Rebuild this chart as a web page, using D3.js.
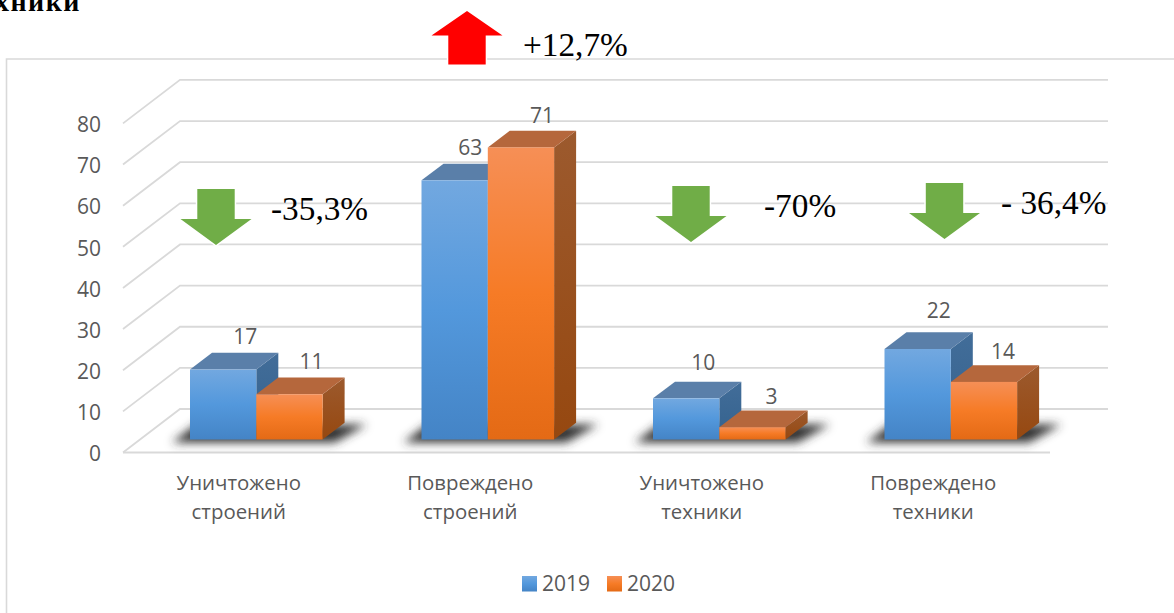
<!DOCTYPE html>
<html><head><meta charset="utf-8">
<script src="https://cdn.jsdelivr.net/npm/d3@7"></script>
<style>html,body{margin:0;padding:0;background:#fff;overflow:hidden}svg{display:block}</style>
</head><body><div id="c"></div>
<script>
const categories = [["Уничтожено","строений"],["Повреждено","строений"],["Уничтожено","техники"],["Повреждено","техники"]];
const seriesNames = ["2019","2020"];
const values2019 = [17,63,10,22];
const values2020 = [11,71,3,14];
const yTicks = [0,10,20,30,40,50,60,70,80];
const changeLabels = ["-35,3%","+12,7%","-70%","- 36,4%"];
const changeDirections = ["down","up","down","down"];
const arrowCentres = [[216,189],[467,64.5],[691,186],[944.5,183]];
const changeLabelPos = [[271,220],[523,56],[764,217],[1001,214]];
const labelDx2019 = [22,15.5,17,21], labelDy2019 = [-16.5,-16,-19,-22];
const labelDx2020 = [22,21,19,19], labelDy2020 = [-16,-15,-14,-14];

const W=1174,H=613, depthX=22, depthY=16.7, barDrop=13, fs=21;
const svg=d3.select("#c").append("svg").attr("width",W).attr("height",H).attr("viewBox",`0 0 ${W} ${H}`);
const defs=svg.append("defs");
function grad(id,stops){const g=defs.append("linearGradient").attr("id",id).attr("x1",0).attr("y1",0).attr("x2",0).attr("y2",1);
  stops.forEach(([o,c])=>g.append("stop").attr("offset",o).attr("stop-color",c));}
grad("f0",[[0,"#72a8e0"],[.5,"#5398dc"],[1,"#4484c6"]]);
grad("f1",[[0,"#f68f56"],[.5,"#f67b26"],[1,"#e46a15"]]);
grad("s0",[[0,"#426d99"],[1,"#34628e"]]);
grad("s1",[[0,"#9c5a2e"],[1,"#964810"]]);
defs.append("filter").attr("id","blur").attr("x","-30%").attr("y","-100%").attr("width","160%").attr("height","300%")
  .append("feGaussianBlur").attr("stdDeviation",5);

const y=d3.scaleLinear().domain([0,80]).range([452.5,123.4]);
const x0=d3.scaleBand().domain(d3.range(categories.length)).range([124,1050]);
const x1=d3.scaleBand().domain(seriesNames).range([66,198.6]);
const grey="#d9d9d9", txt="#595959", sans="'Open Sans',sans-serif", serif="'Liberation Serif',serif";

// frame
svg.append("path").attr("d",`M6.5,${H}V59H${W}`).attr("fill","none").attr("stroke",grey).attr("stroke-width",1.6);
// title line, clipped by the top-left corner as in the reference
svg.append("text").attr("x",81).attr("y",11).attr("text-anchor","end").attr("font-family",serif).attr("font-weight","bold").attr("font-size",28).attr("letter-spacing",1.5).attr("fill","#000").text("техники");

// grid
const grid=svg.append("g").attr("fill","none").attr("stroke",grey).attr("stroke-width",1.8);
yTicks.forEach(t=>{
  grid.append("path").attr("d",`M123,${y(t)}L180,${y(t)-43.5}H1108`);
});
grid.append("path").attr("d",`M123,${y(0)}H1050`);

// y axis
const axis=svg.append("g").attr("transform","translate(124,1.5)").call(d3.axisLeft(y).tickValues(yTicks).tickSize(0).tickPadding(23));
axis.select(".domain").remove();
axis.selectAll("text").attr("font-family",sans).attr("font-size",fs).attr("fill",txt);

// shadows
const barBase=v=>y(v)-barDrop;
svg.append("g").selectAll("path").data(categories).join("path")
  .attr("d",(d,i)=>{const a=x0(i)+x1("2019"),b=x0(i)+x1("2020")+x1.bandwidth();
    return `M${a-18},${y(0)-10}L${a+6},${y(0)-28}H${b+44}L${b+12},${y(0)-10}Z`;})
  .attr("fill","#333").attr("filter","url(#blur)");

// bars
const series=[values2019,values2020];
const barG=svg.append("g");
categories.forEach((c,i)=>{
  series.forEach((vals,s)=>{
    const v=vals[i], xa=x0(i)+x1(seriesNames[s]), w=x1.bandwidth(), yt=barBase(v), yb=barBase(0);
    barG.append("path").attr("d",`M${xa+w},${yt}l${depthX},${-depthY}V${yb-depthY}l${-depthX},${depthY}Z`).attr("fill",`url(#s${s})`);
    barG.append("path").attr("d",`M${xa},${yt}l${depthX},${-depthY}h${w}l${-depthX},${depthY}Z`).attr("fill",s?"#b5673c":"#5a7fa9");
    barG.append("rect").attr("x",xa).attr("y",yt).attr("width",w).attr("height",yb-yt).attr("fill",`url(#f${s})`);
  });
});

// data labels
series.forEach((vals,s)=>{
  const dx=s?labelDx2020:labelDx2019, dy=s?labelDy2020:labelDy2019;
  svg.append("g").selectAll("text").data(vals).join("text")
    .attr("x",(v,i)=>x0(i)+x1(seriesNames[s])+x1.bandwidth()/2+dx[i])
    .attr("y",(v,i)=>barBase(v)-depthY+dy[i])
    .attr("dy","0.35em").attr("text-anchor","middle").attr("font-family",sans).attr("font-size",fs).attr("fill",txt).text(v=>v);
});

// category labels
const cat=svg.append("g").selectAll("text").data(categories).join("text")
  .attr("text-anchor","middle").attr("font-family",sans).attr("font-size",20.4).attr("fill",txt);
cat.each(function(d,i){
  d.forEach((line,k)=>d3.select(this).append("tspan").attr("x",x0(i)+x0.bandwidth()/2-1).attr("y",490+k*29).text(line));
});

// legend
const leg=svg.append("g").selectAll("g").data(seriesNames).join("g").attr("transform",(d,i)=>`translate(${522+i*85},576)`);
leg.append("rect").attr("width",15).attr("height",15.5).attr("fill",(d,i)=>`url(#f${i})`);
leg.append("text").attr("x",20).attr("y",8).attr("dy","0.35em").attr("font-family",sans).attr("font-size",fs).attr("fill",txt).text(d=>d);

// change arrows
const arrow=(cx,top,dir)=>{
  const sh=18.7, hw=35.5, shaft=dir==="down"?30:29, head=dir==="down"?26:24.5;
  const k=dir==="down"?1:-1;
  return `M${cx-sh},${top}H${cx+sh}V${top+k*shaft}H${cx+hw}L${cx},${top+k*(shaft+head)}L${cx-hw},${top+k*shaft}H${cx-sh}Z`;
};
svg.append("g").selectAll("path").data(changeDirections).join("path")
  .attr("d",(d,i)=>arrow(arrowCentres[i][0],arrowCentres[i][1],d))
  .attr("fill",d=>d==="up"?"#ff0000":"#70ad47").attr("stroke","#fff").attr("stroke-width",3).attr("paint-order","stroke");
svg.append("g").selectAll("text").data(changeLabels).join("text")
  .attr("x",(d,i)=>changeLabelPos[i][0]).attr("y",(d,i)=>changeLabelPos[i][1])
  .attr("font-family",serif).attr("font-size",33.3).attr("fill","#000").text(d=>d);
</script></body></html>
